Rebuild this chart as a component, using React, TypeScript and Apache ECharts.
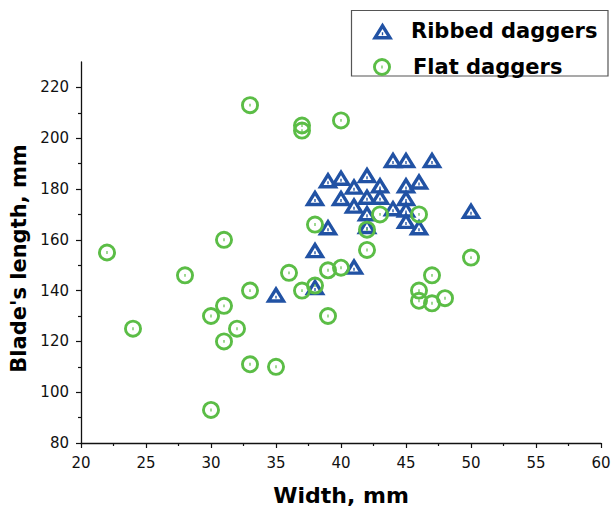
import React, { useEffect, useRef } from "react";
import * as echarts from "echarts";

// Ribbed daggers (blue triangles)
const ribbedWidth = [35, 38, 38, 38, 39, 39, 40, 40, 41, 41, 41, 42, 42, 42, 42, 43, 43, 44, 44, 45, 47, 45, 46, 45, 45, 45, 46, 50];
const ribbedLength = [137.5, 155, 140.5, 175.5, 182.5, 164, 183.5, 175.5, 180, 172.5, 148.5, 184.5, 176, 169.5, 164.5, 180.5, 176, 190.5, 171.5, 190.5, 190.5, 180.5, 182, 175.5, 171, 166.5, 164, 170.5];

// Flat daggers (green circles)
const flatWidth = [22, 24, 28, 30, 30, 31, 31, 31, 32, 33, 33, 33, 35, 36, 37, 37, 37, 38, 38, 39, 39, 40, 40, 42, 42, 43, 46, 46, 46, 47, 47, 48, 50];
const flatLength = [155, 125, 146, 130, 93, 160, 134, 120, 125, 213, 140, 111, 110, 147, 205, 203, 140, 142, 166, 148, 130, 207, 149, 164, 156, 170, 170, 140, 136, 146, 135, 137, 153];

const yLabelValues = [80, 100, 120, 140, 160, 180, 200, 220];
const yMinorValues = [90, 110, 130, 150, 170, 190, 210];

const seriesNames = ["Ribbed daggers", "Flat daggers"];
const xTitle = "Width, mm";
const yTitle = "Blade's length, mm";

const BLUE = "#2152a4";
const GREEN = "#5bbd46";
const FONT = "DejaVu Sans";

const triPath =
  "path://M10 0 L20 16 L0 16 Z M10 6.05 L5.78 12.8 L14.22 12.8 Z M9.35 9.3 L10.65 9.3 L10.65 12.1 L9.35 12.1 Z";
const ringPath =
  "path://M0 10 A10 10 0 1 1 20 10 A10 10 0 1 1 0 10 Z M3.2 10 A6.8 6.8 0 1 0 16.8 10 A6.8 6.8 0 1 0 3.2 10 Z M9.35 8.4 L10.65 8.4 L10.65 11.6 L9.35 11.6 Z";

export default function App() {
  const ref = useRef<HTMLDivElement>(null);
  useEffect(() => {
    if (!ref.current) return;
    const chart = echarts.init(ref.current, undefined, { renderer: "svg" });
    const ribbed = ribbedWidth.map((w, i) => [w, ribbedLength[i]]);
    const flat = flatWidth.map((w, i) => [w, flatLength[i]]);
    const legendText = {
      fontFamily: FONT,
      fontWeight: "bold",
      fontSize: 21,
      color: "#000",
      lineHeight: 24,
    };
    chart.setOption({
      animation: false,
      backgroundColor: "#fff",
      grid: {
        left: 81,
        right: 11,
        top: 62,
        bottom: 67,
        containLabel: false,
        outerBoundsMode: "none",
      },
      legend: [
        {
          data: [seriesNames[0]],
          left: 372,
          top: 19,
          padding: 0,
          itemWidth: 21,
          itemHeight: 17,
          selectedMode: false,
          textStyle: { ...legendText, padding: [0, 0, 0, 13] },
        },
        {
          data: [seriesNames[1]],
          left: 373,
          top: 55,
          padding: 0,
          itemWidth: 18,
          itemHeight: 18,
          selectedMode: false,
          textStyle: { ...legendText, padding: [0, 0, 0, 17] },
        },
      ],
      graphic: [
        {
          type: "rect",
          shape: { x: 351.5, y: 10.5, width: 256.5, height: 65.5 },
          style: { fill: "none", stroke: "#555", lineWidth: 1.2 },
        },
      ],
      xAxis: {
        type: "value",
        min: 20,
        max: 60,
        interval: 5,
        name: xTitle,
        nameLocation: "middle",
        nameGap: 40,
        nameTextStyle: {
          fontFamily: FONT,
          fontWeight: "bold",
          fontSize: 22,
          color: "#000",
          lineHeight: 24,
        },
        axisLine: { show: true, onZero: false, lineStyle: { color: "#111", width: 1.3 } },
        axisTick: { show: true, inside: false, length: 5, lineStyle: { color: "#111", width: 1.2 } },
        minorTick: { show: true, splitNumber: 2, length: 3, lineStyle: { color: "#111", width: 1.2 } },
        axisLabel: { fontFamily: FONT, fontSize: 15, color: "#111", margin: 12 },
        splitLine: { show: false },
        minorSplitLine: { show: false },
      },
      yAxis: [
        {
          type: "value",
          min: 80,
          max: 230,
          name: yTitle,
          nameLocation: "middle",
          nameGap: 35,
          nameRotate: 90,
          nameTextStyle: {
            fontFamily: FONT,
            fontWeight: "bold",
            fontSize: 21,
            color: "#000",
            padding: [0, 12, 0, 0],
          },
          axisLine: { show: true, onZero: false, lineStyle: { color: "#111", width: 1.3 } },
          axisTick: {
            show: true,
            length: 5,
            customValues: yLabelValues,
            lineStyle: { color: "#111", width: 1.2 },
          },
          axisLabel: {
            fontFamily: FONT,
            fontSize: 15,
            color: "#111",
            margin: 12,
            customValues: yLabelValues,
          },
          splitLine: { show: false },
        },
        {
          type: "value",
          min: 80,
          max: 230,
          position: "left",
          axisLine: { show: false },
          axisTick: {
            show: true,
            length: 3,
            customValues: yMinorValues,
            lineStyle: { color: "#111", width: 1.2 },
          },
          axisLabel: { show: false },
          splitLine: { show: false },
        },
      ],
      series: [
        {
          name: seriesNames[0],
          type: "scatter",
          data: ribbed,
          symbol: triPath,
          symbolSize: [21, 17],
          symbolOffset: [0, -2.7],
          itemStyle: { color: BLUE, opacity: 1 },
        },
        {
          name: seriesNames[1],
          type: "scatter",
          data: flat,
          symbol: ringPath,
          symbolSize: 18,
          itemStyle: { color: GREEN, opacity: 1 },
        },
      ],
    });
    return () => chart.dispose();
  }, []);
  return (
    <div
      ref={ref}
      style={{ position: "fixed", left: 0, top: 0, width: 612, height: 510 }}
    />
  );
}
